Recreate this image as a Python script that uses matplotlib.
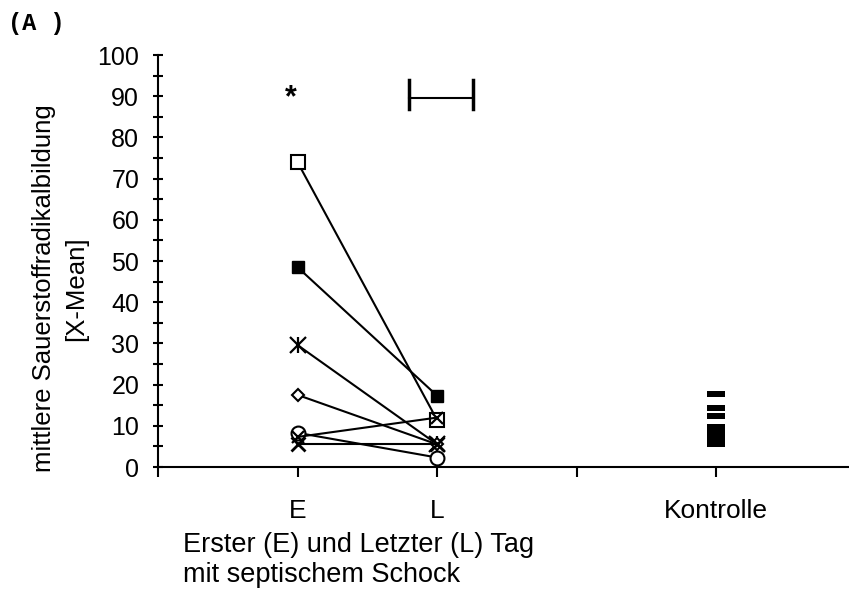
import numpy as np
import matplotlib.pyplot as plt
from matplotlib.ticker import MultipleLocator

# Erster (E) / Letzter (L) Tag, one pair per patient
tage = [1, 2]
open_sq = [74.0, 11.4]
filled_sq = [48.5, 17.3]
stern = [29.6, 5.5]
raute = [17.5, 5.5]
kreis = [8.3, 2.3]
kreuz_a = [5.7, 5.7]
kreuz_b = [7.3, 12.0]

kontrolle_x = 4
kontrolle = [17.8, 14.3, 12.3, 9.6, 8.6, 7.6, 6.6, 5.6]

x_ticks = [0, 1, 2, 3, 4]
x_labels = ['', 'E', 'L', '', 'Kontrolle']

plt.rcParams['font.family'] = ['Liberation Sans', 'DejaVu Sans']

fig = plt.figure(figsize=(8.49, 6.10), dpi=100)
ax = fig.add_axes([0.186, 0.2344, 0.814, 0.6754])

lw = 1.5
ax.plot(tage, open_sq, color='black', lw=lw, marker='s', ms=10, mfc='white', mec='black', mew=1.5)
ax.plot(tage, filled_sq, color='black', lw=lw, marker='s', ms=9, mfc='black', mec='black')
ax.plot(tage, stern, color='black', lw=lw, marker='x', ms=11, mew=1.6)
ax.plot(tage, stern, color='none', marker='|', ms=11, mec='black', mew=1.6)
ax.plot(tage, raute, color='black', lw=lw, marker='D', ms=6, mfc='white', mec='black', mew=1.5)
ax.plot(tage, kreis, color='black', lw=lw, marker='o', ms=10, mfc='white', mec='black', mew=1.5)
ax.plot(tage, kreuz_a, color='black', lw=lw, marker='x', ms=9.5, mew=2)
ax.plot(tage, kreuz_b, color='black', lw=lw, marker='x', ms=8.5, mew=1.6)

# Kontrolle: short thick bars
bar_marker = [(-1.7, -0.5), (1.7, -0.5), (1.7, 0.5), (-1.7, 0.5), (-1.7, -0.5)]
ax.plot([kontrolle_x] * len(kontrolle), kontrolle, ls='none', marker=bar_marker,
        ms=12.3, mfc='black', mec='black', mew=0)

# significance marks
ax.text(0.95, 89.5, '*', ha='center', va='center', fontsize=22, fontweight='bold')
ax.plot([1.80, 2.26], [89.6, 89.6], color='black', lw=1.5)
ax.plot([1.80, 1.80], [87.0, 94.0], color='black', lw=2.5)
ax.plot([2.26, 2.26], [87.0, 94.0], color='black', lw=2.5)

ax.set_xlim(0, 4.95)
ax.set_ylim(0, 100)
ax.set_xticks(x_ticks)
ax.set_xticklabels(x_labels, fontsize=19)
ax.yaxis.set_major_locator(MultipleLocator(10))
ax.yaxis.set_minor_locator(MultipleLocator(5))
ax.tick_params(axis='y', which='both', direction='inout', length=7, width=1.5, labelsize=18, pad=10)
ax.tick_params(axis='x', direction='out', length=7, width=1.5, pad=16)

for s in ['top', 'right']:
    ax.spines[s].set_visible(False)
ax.spines['left'].set_linewidth(1.5)
ax.spines['bottom'].set_linewidth(1.5)

fig.text(0.052, 0.527, 'mittlere Sauerstoffradikalbildung', rotation=90,
         ha='center', va='center', fontsize=18.5)
fig.text(0.09, 0.527, '[X-Mean]', rotation=90, ha='center', va='center', fontsize=18.5)
fig.text(0.215, 0.082, 'Erster (E) und Letzter (L) Tag\nmit septischem Schock',
         ha='left', va='center', fontsize=19.5, linespacing=1.2)
fig.text(0.01, 0.962, '(A )', family='Liberation Mono', fontweight='bold',
         fontsize=17, ha='left', va='center')

fig.savefig('out.png', dpi=100)
